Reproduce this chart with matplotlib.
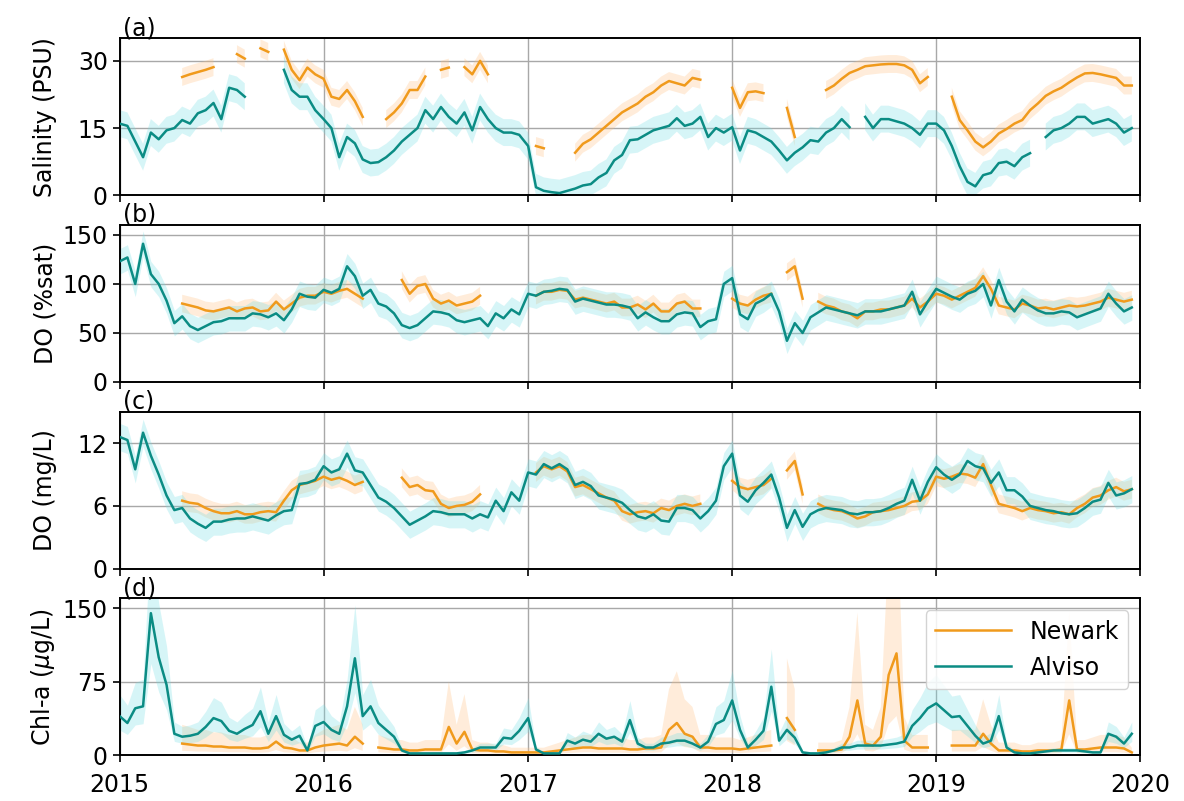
import numpy as np
import pandas as pd
import matplotlib
matplotlib.use("Agg")
import matplotlib.pyplot as plt
import matplotlib.dates as mdates
from matplotlib.lines import Line2D

nan = np.nan

# sampling dates: every 14 days, 26 samples per year, 2015-2019
years = [2015, 2016, 2017, 2018, 2019]
dates = pd.DatetimeIndex(np.concatenate(
    [pd.date_range(f"{y}-01-01", periods=26, freq="14D").values for y in years]))

# ---- Salinity (PSU) ----
sal_alviso = [
    16, 15.5, 12, 8.5, 14, 12.5, 14.5, 15, 16.8, 16, 18.3, 19, 20.6, 17, 24, 23.5, 22, nan, nan, nan, nan, 28, 23.5, 22, 22, 19,
    17, 15, 8.5, 13, 11.6, 8, 7.2, 7.4, 8.5, 10, 12, 13.5, 15, 19, 17, 19.7, 17.5, 16, 18.5, 14.5, 19.7, 17, 15, 14, 14, 13.5,
    11, 1.8, 1.0, 0.7, 0.5, 1.0, 1.5, 2.2, 2.5, 4, 5, 7.8, 9, 12.3, 12.5, 13.5, 14.5, 15, 15.5, 17.2, 15.5, 16, 17.5, 13, 15, 14,
    15.2, 10, 14.5, 14, 13, 12, 10, 7.8, 9.5, 10.7, 12.3, 12, 14, 15, 17, 15.2, nan, 17.5, 15, 17, 17, 16.5, 16, 15, 13.5, 16,
    16, 14.5, 11, 6.5, 3, 2, 4.5, 5, 7.2, 7.5, 6.5, 8.5, 9.4, nan, 13, 14.5, 15, 16, 17.5, 17.5, 16, 16.5, 17, 16, 14, 15,
]
sal_newark = [
    nan, nan, nan, nan, nan, nan, nan, nan, 26.4, 27, 27.5, 28, 28.6, nan, nan, 31.5, 30.5, nan, 32.8, 32, nan, 32.5, 28, 25.7, 28.5, 27,
    26, 22, 21.5, 23.5, 21, 17.5, nan, nan, 17, 18.5, 20.5, 23.5, 23.5, 26.5, nan, 28, 28.5, nan, 28.6, 27, 30, 27, nan, nan, nan, nan,
    nan, 11, 10.5, nan, nan, nan, 9.5, 11.5, 12.5, 14, 15.5, 17, 18.5, 19.5, 20.5, 22, 23, 24.5, 25.5, 25, 24.5, 26.2, 25.8, nan, nan, nan,
    24, 19.5, 23, 23.2, 22.8, nan, nan, 19.5, 13, nan, nan, nan, 23.5, 24.5, 26, 27.3, 28, 28.8, 29, 29.2, 29.3, 29.3, 29, 28, 25, 26.4,
    nan, nan, 22, 16.8, 14.5, 12, 10.7, 12, 13.8, 14.8, 16, 16.8, 19, 20.5, 22.2, 23.2, 24, 25.2, 26.3, 27.2, 27.3, 27, 26.6, 26.2, 24.5, 24.5,
]

# ---- Dissolved oxygen (% saturation) ----
dosat_alviso = [
    123, 127, 100, 141, 110, 100, 83, 60, 67, 57, 53, 57, 61, 62, 65, 65, 65, 70, 69, 66, 70, 63, 74, 90, 87, 86,
    94, 91, 95, 118, 108, 88, 94, 80, 77, 70, 58, 55, 58, 65, 72, 71, 69, 63, 61, 63, 65, 57, 70, 65, 74, 69,
    90, 88, 92, 93, 95, 94, 82, 85, 83, 81, 79, 79, 78, 76, 65, 71, 66, 62, 62, 69, 71, 70, 56, 62, 64, 100,
    106, 69, 64, 80, 84, 90, 72, 42, 60, 50, 66, 71, 76, 74, 72, 70, 68, 72, 72, 72, 74, 76, 78, 92, 69, 82,
    95, 91, 87, 84, 90, 93, 100, 78, 104, 82, 72, 84, 78, 73, 70, 70, 72, 71, 66, 69, 72, 75, 90, 80, 72, 76,
]
dosat_newark = [
    nan, nan, nan, nan, nan, nan, nan, nan, 80, 78, 76, 73, 72, 74, 76, 72, 75, 76, 72, 73, 82, 74, 80, 86, 88, 88,
    92, 90, 93, 95, 90, 85, nan, nan, nan, nan, 104, 90, 98, 100, 85, 80, 83, 78, 80, 82, 88, nan, nan, nan, nan, nan,
    nan, 88, 92, 92, 94, 93, 84, 86, 84, 82, 80, 82, 76, 76, 79, 74, 80, 72, 72, 80, 82, 75, 75, nan, nan, nan,
    85, 80, 78, 84, 88, 90, nan, 112, 118, 85, nan, 82, 78, 76, 72, 70, 65, 72, 72, 74, 74, 76, 78, 85, 76, 82,
    90, 88, 84, 88, 92, 96, 108, 95, 78, 76, 74, 80, 78, 75, 76, 74, 76, 78, 77, 78, 80, 82, 86, 84, 82, 84,
]

# ---- Dissolved oxygen (mg/L) ----
domg_alviso = [
    12.6, 12.3, 9.5, 13, 10.8, 9, 7.0, 5.6, 5.8, 4.8, 4.3, 3.9, 4.5, 4.5, 4.7, 4.8, 4.8, 5.0, 4.8, 4.6, 5.1, 5.5, 5.6, 8.1, 8.2, 8.5,
    9.8, 9.2, 9.5, 11, 9.4, 9.2, 8.0, 6.8, 6.4, 5.8, 5.0, 4.2, 4.6, 5.0, 5.5, 5.4, 5.2, 5.2, 5.2, 4.8, 5.2, 4.9, 6.5, 5.5, 7.3, 6.5,
    9.2, 9.0, 10, 9.6, 10, 9.5, 8.0, 8.3, 7.9, 7.0, 6.8, 6.6, 6.3, 5.6, 5.0, 4.8, 5.2, 4.6, 4.5, 5.8, 5.8, 5.6, 4.8, 5.5, 6.5, 9.8,
    11, 7.0, 6.4, 7.5, 8.2, 9.0, 6.8, 3.9, 5.6, 4.0, 5.2, 5.6, 5.8, 5.7, 5.6, 5.3, 5.2, 5.4, 5.4, 5.5, 5.8, 6.2, 6.5, 8.5, 6.5, 8.3,
    9.7, 9.0, 8.5, 9.0, 10.3, 9.8, 9.6, 8.2, 9.2, 7.5, 7.5, 6.9, 6.0, 5.8, 5.6, 5.5, 5.3, 5.2, 5.3, 5.8, 6.4, 6.6, 8.2, 7.0, 7.2, 7.6,
]
domg_newark = [
    nan, nan, nan, nan, nan, nan, nan, nan, 6.5, 6.3, 6.2, 5.8, 5.5, 5.3, 5.3, 5.5, 5.2, 5.2, 5.4, 5.5, 5.4, 6.5, 7.5, 8.0, 8.2, 8.4,
    8.8, 8.5, 8.7, 8.4, 8.0, 8.3, nan, nan, nan, nan, 8.7, 7.8, 8.0, 7.5, 7.4, 6.2, 5.8, 6.0, 6.1, 6.4, 7.1, nan, nan, nan, nan, nan,
    nan, 9.2, 9.8, 9.5, 9.8, 9.3, 7.8, 8.0, 7.6, 7.2, 6.8, 6.5, 5.5, 5.2, 5.4, 5.5, 5.3, 5.8, 5.6, 6.0, 6.2, 6.0, 6.2, nan, nan, nan,
    8.4, 7.8, 7.6, 7.8, 8.0, 8.6, nan, 9.4, 10.3, 7.1, nan, 6.2, 5.8, 5.6, 5.5, 5.2, 4.8, 5.0, 5.4, 5.5, 5.6, 5.8, 6.0, 6.4, 6.5, 7.1,
    8.8, 8.6, 8.8, 9.1, 9.0, 8.7, 10.0, 8.0, 6.2, 6.0, 5.8, 5.5, 5.8, 5.6, 5.5, 5.3, 5.4, 5.2, 5.8, 6.2, 6.8, 7.0, 7.5, 7.8, 7.4, 7.6,
]

# ---- Chlorophyll-a (ug/L) ----
chl_alviso = [
    40, 33, 48, 50, 145, 100, 72, 22, 19, 20, 22, 29, 38, 35, 25, 22, 27, 31, 45, 22, 40, 21, 16, 20, 5, 30,
    34, 26, 22, 50, 99, 40, 50, 33, 26, 19, 5, 2, 2, 2, 2, 2, 2, 2, 3, 5, 8, 8, 8, 18, 17, 25,
    38, 6, 2, 2, 2, 15, 12, 16, 14, 22, 17, 19, 14, 36, 12, 8, 8, 12, 13, 15, 15, 12, 8, 14, 32, 36,
    56, 26, 8, 16, 25, 70, 15, 26, 18, 3, 2, 2, 3, 5, 8, 8, 10, 10, 10, 10, 11, 12, 14, 30, 38, 48,
    53, 46, 39, 40, 30, 20, 12, 15, 40, 8, 3, 2, 2, 3, 4, 5, 5, 5, 5, 4, 3, 3, 22, 19, 12, 22,
]
chl_newark = [
    nan, nan, nan, nan, nan, nan, nan, nan, 12, 11, 10, 10, 9, 9, 8, 8, 8, 7, 7, 8, 14, 8, 7, 5, 5, 8,
    10, 11, 12, 10, 19, 12, nan, 8, 7, 6, 6, 5, 5, 6, 6, 6, 29, 12, 24, 6, 5, 5, 4, 4, 3, 3,
    3, 3, 3, 4, 5, 6, 7, 8, 8, 7, 7, 7, 7, 6, 6, 7, 7, 8, 26, 33, 22, 19, 8, 8, 7, 7,
    7, 6, 7, 8, 9, 10, nan, 38, 26, nan, nan, 5, 5, 5, 6, 19, 56, 12, 10, 19, 82, 104, 15, 8, 8, 8,
    nan, nan, 10, 10, 10, 10, 22, 12, 5, 5, 5, 4, 4, 5, 5, 5, 6, 56, 6, 6, 7, 8, 8, 8, 7, 3,
]

# ---- styling ----
c_newark = "#f09a1c"
c_alviso = "#0b8c84"
band_newark = "#ffbe7a"
band_alviso = "#6fdde3"
fs = 17

panels = [
    dict(lab="(a)", ylabel="Salinity (PSU)", newark=sal_newark, alviso=sal_alviso,
         ylim=(0, 35), yticks=[0, 15, 30], band=("add", 2.0, 3.0)),
    dict(lab="(b)", ylabel="DO (%sat)", newark=dosat_newark, alviso=dosat_alviso,
         ylim=(0, 160), yticks=[0, 50, 100, 150], band=("add", 9.0, 13.0)),
    dict(lab="(c)", ylabel="DO (mg/L)", newark=domg_newark, alviso=domg_alviso,
         ylim=(0, 15), yticks=[0, 6, 12], band=("add", 0.9, 1.3)),
    dict(lab="(d)", ylabel="Chl-a ($\\mu$g/L)", newark=chl_newark, alviso=chl_alviso,
         ylim=(0, 160), yticks=[0, 75, 150], band=("mul", 2.6, 1.55)),
]

plt.rcParams["font.family"] = "DejaVu Sans"
fig, axes = plt.subplots(4, 1, figsize=(11.84, 8.01), dpi=100, sharex=True)
fig.subplots_adjust(left=0.101, right=0.963, top=0.952, bottom=0.057, hspace=0.19)


def band_limits(v, kind, w):
    v = np.asarray(v, dtype=float)
    if kind == "add":
        return np.clip(v - w, 0, None), v + w
    return v / w, v * w


for ax, p in zip(axes, panels):
    kind, w_new, w_alv = p["band"]
    lo, hi = band_limits(p["newark"], kind, w_new)
    ax.fill_between(dates, lo, hi, color=band_newark, alpha=0.28, lw=0, zorder=1)
    lo, hi = band_limits(p["alviso"], kind, w_alv)
    ax.fill_between(dates, lo, hi, color=band_alviso, alpha=0.28, lw=0, zorder=1)
    ax.plot(dates, p["newark"], color=c_newark, lw=1.8, zorder=3)
    ax.plot(dates, p["alviso"], color=c_alviso, lw=1.8, zorder=4)

    ax.set_ylim(*p["ylim"])
    ax.set_yticks(p["yticks"])
    ax.set_ylabel(p["ylabel"], fontsize=fs)
    ax.tick_params(axis="both", labelsize=fs, width=1.2, length=5)
    ax.tick_params(axis="x", pad=8)
    ax.grid(True, color="#a8a8a8", lw=1.0, zorder=0)
    ax.set_axisbelow(True)
    for s in ax.spines.values():
        s.set_linewidth(1.4)
    ax.text(0.003, 0.99, p["lab"], transform=ax.transAxes, ha="left", va="bottom", fontsize=fs)

axes[-1].set_xlim(pd.Timestamp("2015-01-01"), pd.Timestamp("2020-01-01"))
axes[-1].xaxis.set_major_locator(mdates.YearLocator())
axes[-1].xaxis.set_major_formatter(mdates.DateFormatter("%Y"))
fig.align_ylabels(axes)

handles = [Line2D([], [], color=c_newark, lw=1.8), Line2D([], [], color=c_alviso, lw=1.8)]
axes[-1].legend(handles, ["Newark", "Alviso"], loc="upper right", fontsize=fs,
                handlelength=3.2, framealpha=0.85)

fig.savefig("out.png", dpi=100)
